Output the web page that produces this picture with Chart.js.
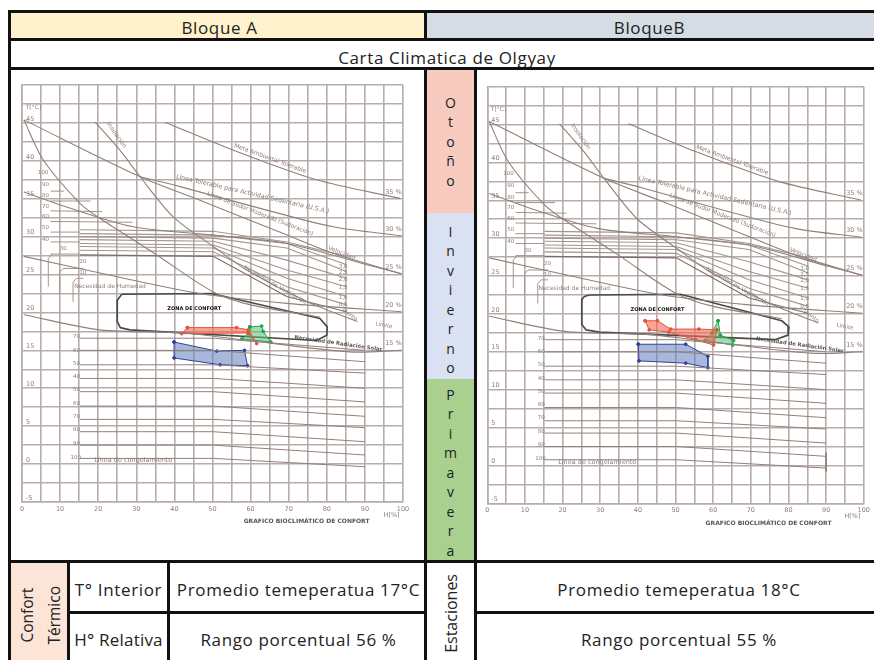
<!DOCTYPE html>
<html>
<head>
<meta charset="utf-8">
<title>Carta Climatica de Olgyay</title>
<script src="https://cdn.jsdelivr.net/npm/chart.js@4"></script>
<style>
  html, body { margin: 0; padding: 0; background: #fff; overflow: hidden; }
  body { width: 874px; height: 660px; position: relative; font-family: "Open Sans", Lato, sans-serif; color: #222; }
  .cell { position: absolute; display: flex; align-items: center; justify-content: center; text-align: center; font-size: 17px; letter-spacing: 0.65px; white-space: nowrap; }
  .line { position: absolute; background: #111; }
  .stack { line-height: 19.45px; font-size: 14px; letter-spacing: 0; align-items: flex-start; white-space: normal; }
  .rot { writing-mode: vertical-rl; transform: rotate(180deg); letter-spacing: 0; font-size: 16px; }
  canvas { position: absolute; filter: blur(0.55px); }
</style>
</head>
<body>
  <div class="cell" style="left:8px;top:11px;width:423px;height:33px;background:linear-gradient(#fff2cc 28px,#fff 28px);clip-path:inset(0 6px 0 0)">Bloque A</div>
  <div class="cell" style="left:425px;top:11px;width:449px;height:23px;padding-top:5px;background:#d6dce4">BloqueB</div>
  <div class="cell" style="left:14px;top:42px;width:866px;height:30px">Carta Climatica de Olgyay</div>

  <div class="cell stack" style="left:426px;top:69px;width:49px;height:144px;background:#f8cbc1"><div style="margin-top:24px">O<br>t<br>o<br>ñ<br>o</div></div>
  <div class="cell stack" style="left:426px;top:213px;width:49px;height:166px;background:#d9e1f2"><div style="margin-top:9px">I<br>n<br>v<br>i<br>e<br>r<br>n<br>o</div></div>
  <div class="cell stack" style="left:426px;top:379px;width:49px;height:182px;background:#a9d08e"><div style="margin-top:6px">P<br>r<br>i<br>m<br>a<br>v<br>e<br>r<br>a</div></div>

  <div class="cell" style="left:10px;top:562px;width:58px;height:98px;background:#fce4d6"><div class="rot" style="line-height:27px;white-space:pre;font-size:15.5px;text-align:center;margin-top:8px;margin-left:4px">Confort
Térmico</div></div>
  <div class="cell" style="left:69px;top:564px;width:99px;height:50px">T° Interior</div>
  <div class="cell" style="left:69px;top:614px;width:99px;height:50px;letter-spacing:0.2px">H° Relativa</div>
  <div class="cell" style="left:170px;top:564px;width:257px;height:50px">Promedio temeperatua 17°C</div>
  <div class="cell" style="left:170px;top:614px;width:257px;height:50px">Rango porcentual 56 %</div>
  <div class="cell" style="left:426px;top:564px;width:49px;height:98px"><div class="rot">Estaciones</div></div>
  <div class="cell" style="left:480px;top:564px;width:398px;height:50px">Promedio temeperatua 18°C</div>
  <div class="cell" style="left:480px;top:614px;width:398px;height:50px">Rango porcentual 55 %</div>

  <canvas id="chartA" width="414" height="490" style="left:10px;top:70px"></canvas>
  <canvas id="chartB" width="396" height="490" style="left:477px;top:70px"></canvas>

  <div class="line" style="left:8px;top:10px;width:866px;height:3px"></div>
  <div class="line" style="left:8px;top:38px;width:866px;height:3px"></div>
  <div class="line" style="left:8px;top:67px;width:866px;height:3px"></div>
  <div class="line" style="left:8px;top:560px;width:866px;height:3px"></div>
  <div class="line" style="left:68px;top:611px;width:358px;height:3px"></div>
  <div class="line" style="left:475px;top:611px;width:399px;height:3px"></div>
  <div class="line" style="left:8px;top:10px;width:3px;height:650px"></div>
  <div class="line" style="left:424px;top:10px;width:3px;height:30px"></div>
  <div class="line" style="left:424px;top:67px;width:3px;height:593px"></div>
  <div class="line" style="left:474px;top:67px;width:3px;height:593px"></div>
  <div class="line" style="left:67px;top:561px;width:3px;height:99px"></div>
  <div class="line" style="left:167px;top:561px;width:3px;height:99px"></div>

<script>
// values: x = humedad relativa [%], y = temperatura [°C]
const curveMeta = [[37.5,45.1],[55.5,41.4],[77.3,37.5],[99.2,35.05]];
const curveSudorA = [[0.5,45.4],[31,37.9],[46.7,34.8],[68.6,30.4],[81.7,27.8],[99.6,25.1]];
const curveTolerable = [[31,37.9],[41.5,36.6],[64.2,33.5],[81.7,31.3],[99.6,30.1]];
const curveSteepA = [[0.5,45.4],[5.6,40.1],[15.2,34.4],[20.5,32.4],[29.2,29.6],[35.3,27.6],[50.2,22.7],[60,21],[78.2,19.4]];
const curveSteepB = [[19.2,45.1],[25.7,41.4],[31,37.9],[39.7,32.6],[50.2,28.7],[59,25.6],[74.9,21.4],[88,18.8]];
const curve35 = [[0.5,35.9],[11.7,33.9],[29.2,31.3],[50.2,30.2],[69.5,29.1],[90.5,26.3],[99.6,25.1]];
const curve25 = [[0.5,27.4],[20.5,25.2],[46.7,22.5],[69.5,21.2],[99.6,20.1]];
const curve15 = [[0.5,19.7],[20.5,17.7],[42.3,17.3],[58,16.4],[86,14.8],[99.6,15]];
const curves = [curveMeta, curveSudorA, curveTolerable, curveSteepA, curveSteepB, curve35, curve25, curve15];

// humidity family above the comfort zone: T at x = 15, 50, 70, 85
const upperStart = [30.9, 30.4, 30, 29.6, 29.1, 28.7, 28.2, 27.6];
const upperMid = [29.3, 29.1, 28.5, 26.9, 25.6, 24.5, 23.4, 22.1];
const upperEnd = [27.4, 26.3, 25.4, 24.5, 23.4, 22.1, 21, 20.1];
const upperX = [15.2, 50.2, 69.5, 85.2];

// humidity family below the comfort zone: T at x = 15, 50, 90
const lowerStart = [16.6, 15, 13.1, 11.3, 9.55, 7.65, 5.9, 4.27, 2.5, 0.75];
const lowerEnd = [15, 13.5, 12, 10, 8.2, 6.3, 4.8, 2.95, 1.2, -0.35];
const lowerX = [15.2, 50.2, 90];

// short leaders next to the 100..40 labels
const leaders = [
  [[7.5,36.0],[11,36.0]],
  [[7.5,34.7],[18,34.7]],
  [[7.5,33.4],[21,33.3]],
  [[7.5,32],[29,31.9]],
  [[7.5,30.6],[15.2,30.6]],
  [[7.5,29.3],[15.2,29.3]],
  [[7.5,27.7],[15.2,27.7]]
];
// brackets of "Necesidad de Humedad"
const brackets = [
  [[6.9,23.4],[6.9,27.1],[7.9,27.7]],
  [[9.9,22.5],[9.9,25.3],[10.8,25.8],[16.1,25.8]],
  [[13.4,21.4],[13.4,24],[14.3,24.5],[16.1,24.5]]
];
// closing stroke at the right end of the lower family, only on the B copy
const edgeB = [[90,1.7],[90,-0.8]];

const comfortA = [[26.2,22.4],[49.8,22.5],[78.2,19.2],[80.1,18.1],[80,17],[77.3,16.3],[28.3,17.7],[25.8,18],[25,18.8],[25,21.6],[26.2,22.4]];
const otonoA = [[43.4,18],[56.3,18],[59.4,17.7],[61.6,15.9],[59.3,17.3],[41.9,17.2],[43.4,18]];
const primaveraA = [[59.8,18.1],[62.9,18.2],[63.3,17.5],[65.3,16.1],[57.7,16.5],[59.4,17.2],[59.8,18.1]];
const inviernoA = [[39.9,16.1],[51.1,14.9],[58.4,15],[59.2,12.97],[52,13.1],[39.9,14],[39.9,16.1]];

const comfortB = [[27.1,22.5],[51.3,22.6],[78.2,19.1],[80.1,18.3],[79.9,17.2],[76.4,16.6],[29.8,17.6],[26.2,17.9],[25.1,18.6],[25.1,21.9],[25.8,22.3],[27.1,22.5]];
const otonoB = [[41.9,19.1],[45.2,19.1],[48.7,18],[56.2,18],[61,17.9],[60.1,15.9],[55.3,16.6],[48.2,17.6],[43,17.9],[41.9,19.1]];
const primaveraB = [[61.3,19.1],[61.9,17.2],[65.4,16.5],[65.2,15.9],[57.9,16.5],[59.7,17.5],[61.3,19.1]];
const inviernoB = [[40.1,16],[52.7,16],[58.6,14.4],[58.6,12.9],[52.7,13.5],[40.3,13.8],[40.1,16]];

// chart notes: x, y, text, angle, size, colour
const gray = '#8a7e7a';
const notes = [
  [3, 47, 'T[°C]', 0, 6, gray],
  [97.5, 35.9, '35 %', 0, 6.5, gray],
  [97.5, 31, '30 %', 0, 6.5, gray],
  [97.5, 26, '25 %', 0, 6.5, gray],
  [97.5, 21, '20 %', 0, 6.5, gray],
  [97.5, 15.9, '15 %', 0, 6.5, gray],
  [65.1, 40.3, 'Meta Ambiental Tolerable', 20, 6, gray],
  [60.5, 35.6, 'Línea Tolerable para Actividad Sedentaria (U.S.A.)', 13, 6.3, gray],
  [62.5, 33, 'Línea de Sudor Moderado (Sudoración)', 21, 5.8, gray],
  [24.8, 43.4, 'Insolación', 55, 6, gray],
  [66.4, 23.6, 'Necesidad de Ventilación', 30, 5.7, gray],
  [23.1, 23.4, 'Necesidad de Humedad', 0, 6, gray],
  [83, 15.9, 'Necesidad de Radiación Solar', 8, 5.3, '#555'],
  [83.9, 27.8, 'Velocidad', 22, 6, gray],
  [86, 19.7, 'Viento', 35, 5.5, gray],
  [95, 18.3, 'Límite', 10, 5.5, gray],
  [45.2, 20.5, 'ZONA DE CONFORT', 0, 5, '#111'],
  [29.2, 0.44, 'Línea de congelamiento', 0, 6.5, gray],
  [74.7, -7.6, 'GRAFICO BIOCLIMÁTICO DE CONFORT', 0, 6, '#555'],
  [97, -6.7, 'H[%]', 0, 6.5, gray]
];
const humidityLabels = [
  [5.6,38.5,'100'],[6.2,36.9,'90'],[6.2,35.4,'80'],[6.2,34,'70'],[6.2,32.6,'60'],[6.2,31.2,'50'],[6.2,29.6,'40'],
  [10.8,28.4,'30'],[16,26.7,'20'],[16,25.2,'10'],
  [14.3,16.8,'70'],[14.3,15,'60'],[14.3,13.3,'50'],[14.3,11.5,'40'],[14.3,9.8,'50'],[14.3,8,'60'],[14.3,6.3,'70'],[14.3,4.5,'80'],[14.3,2.7,'90'],[14.1,0.9,'100'],
  [84.3,26,'3,0'],[84.3,25.2,'2,5'],[84.3,24.4,'2,0'],[84.3,23.3,'1,5'],[84.3,22,'1,0'],[84.3,21,'0,5']
];

const toPoints = list => list.map(p => ({ x: p[0], y: p[1] }));

function lineSet(list, color, width, tension) {
  return { data: toPoints(list), showLine: true, pointRadius: 0, borderColor: color, borderWidth: width, tension: tension || 0, fill: false };
}

function polySet(list, color, fillColor) {
  return { data: toPoints(list), showLine: true, pointRadius: 1.4, pointBackgroundColor: color, pointBorderColor: color,
    borderColor: color, borderWidth: 1, backgroundColor: fillColor, fill: 'shape', tension: 0 };
}

const notesPlugin = {
  id: 'notes',
  afterDatasetsDraw(chart) {
    const { ctx, scales } = chart;
    ctx.save();
    ctx.textAlign = 'center';
    ctx.textBaseline = 'middle';
    notes.forEach(n => {
      ctx.save();
      ctx.translate(scales.x.getPixelForValue(n[0]), scales.y.getPixelForValue(n[1]));
      ctx.rotate(n[3] * Math.PI / 180);
      ctx.font = (n[5] === gray ? '' : 'bold ') + n[4] + 'px "DejaVu Sans"';
      ctx.fillStyle = n[5];
      ctx.fillText(n[2], 0, 0);
      ctx.restore();
    });
    ctx.font = '5.5px "DejaVu Sans"';
    ctx.fillStyle = gray;
    humidityLabels.forEach(n => ctx.fillText(n[2], scales.x.getPixelForValue(n[0]), scales.y.getPixelForValue(n[1])));
    ctx.restore();
  }
};

function draw(id, comfort, otono, primavera, invierno, extra, pad, padTop, bottom) {
  const darkLine = '#8f817c';
  const thin = '#a2948f';
  const sets = [];
  curves.forEach(c => sets.push(lineSet(c, darkLine, 1.1, 0.3)));
  upperStart.forEach((v, i) => {
    const row = [[upperX[0], v], [upperX[1], v - 0.2], [upperX[2], upperMid[i]], [upperX[3], upperEnd[i]]];
    sets.push(lineSet(row, i === 7 ? '#7a6c67' : thin, 1.1));
  });
  lowerStart.forEach((v, i) => {
    const row = [[lowerX[0], v], [lowerX[1], v], [lowerX[2], lowerEnd[i]]];
    sets.push(lineSet(row, darkLine, 1));
  });
  leaders.forEach(l => sets.push(lineSet(l, thin, 1)));
  brackets.forEach(b => sets.push(lineSet(b, thin, 1)));
  extra.forEach(e => sets.push(lineSet(e, darkLine, 1)));
  sets.push(polySet(otono, '#e8503a', 'rgba(240,105,85,0.6)'));
  sets.push(polySet(primavera, '#18a84a', 'rgba(90,190,120,0.55)'));
  sets.push(polySet(invierno, '#33409c', 'rgba(95,125,190,0.55)'));
  sets.push(Object.assign(lineSet(comfort, '#4a4a4a', 1.7), { borderJoinStyle: 'round' }));

  new Chart(document.getElementById(id), {
    type: 'scatter',
    data: { datasets: sets },
    plugins: [notesPlugin],
    options: {
      responsive: false,
      animation: false,
      layout: { padding: { left: pad.left, right: pad.right, top: padTop, bottom: 0 } },
      plugins: { legend: { display: false }, tooltip: { enabled: false } },
      scales: {
        x: {
          min: 0, max: 100,
          afterFit: s => { s.height = bottom; },
          grid: { color: '#b8aca8', lineWidth: 1.6, drawTicks: false },
          border: { color: '#b8aca8', width: 1.6 },
          ticks: { stepSize: 5, autoSkip: false, maxRotation: 0, padding: 3, color: gray, font: { size: 6.5, family: 'DejaVu Sans' },
            callback: v => (v % 10 === 0 ? v : '') }
        },
        y: {
          min: -5, max: 50,
          afterFit: s => { s.width = 0; },
          grid: { color: '#b8aca8', lineWidth: 1.6, drawTicks: false },
          border: { color: '#b8aca8', width: 1.6 },
          ticks: { stepSize: 2.5, autoSkip: false, mirror: true, padding: 4, labelOffset: -4, color: gray, font: { size: 6.5, family: 'DejaVu Sans' },
            callback: v => (v % 5 === 0 && v !== 50 ? v : '') }
        }
      }
    }
  });
}

draw('chartA', comfortA, otonoA, primaveraA, inviernoA, [], { left: 12, right: 21 }, 15, 58);
draw('chartB', comfortB, otonoB, primaveraB, inviernoB, [edgeB], { left: 10.3, right: 7 }, 16.7, 56.7);
</script>
</body>
</html>
